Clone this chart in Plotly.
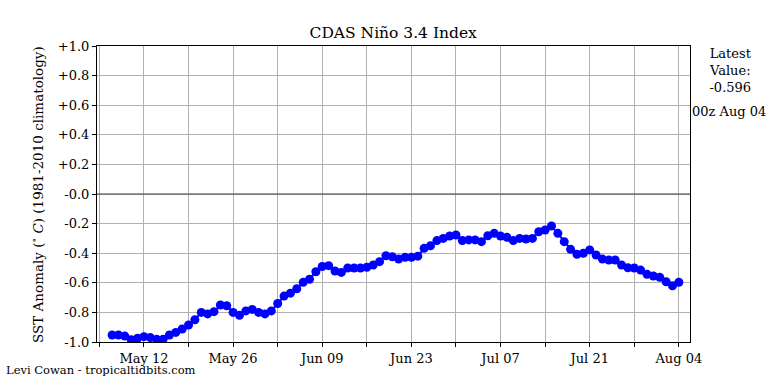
import plotly.graph_objects as go
import pandas as pd

start_date = "2021-05-07"
values = [
    -0.953, -0.953, -0.96, -0.985, -0.975, -0.964, -0.97, -0.982, -0.982, -0.953,
    -0.935, -0.912, -0.885, -0.85, -0.80, -0.81, -0.795, -0.75, -0.755, -0.80,
    -0.82, -0.79, -0.78, -0.80, -0.81, -0.79, -0.74, -0.69, -0.67, -0.64,
    -0.597, -0.576, -0.525, -0.49, -0.484, -0.52, -0.53, -0.50, -0.50, -0.50,
    -0.495, -0.48, -0.457, -0.417, -0.424, -0.44, -0.428, -0.428, -0.42, -0.367,
    -0.35, -0.315, -0.30, -0.284, -0.277, -0.315, -0.31, -0.31, -0.322, -0.282,
    -0.266, -0.284, -0.293, -0.315, -0.30, -0.304, -0.30, -0.255, -0.243, -0.216,
    -0.266, -0.322, -0.374, -0.407, -0.40, -0.378, -0.412, -0.44, -0.446, -0.446,
    -0.48, -0.498, -0.50, -0.514, -0.543, -0.554, -0.563, -0.593, -0.62, -0.596,
]
dates = pd.date_range(start_date, periods=len(values), freq="D")

x_ticks = pd.date_range("2021-05-05", "2021-08-04", freq="7D")
x_labels = ["May 12", "May 26", "Jun 09", "Jun 23", "Jul 07", "Jul 21", "Aug 04"]
y_ticks = [1.0, 0.8, 0.6, 0.4, 0.2, 0.0, -0.2, -0.4, -0.6, -0.8, -1.0]
y_labels = ["+1.0", "+0.8", "+0.6", "+0.4", "+0.2", "-0.0", "-0.2", "-0.4", "-0.6", "-0.8", "-1.0"]

tick_text = []
for d in x_ticks:
    lab = d.strftime("%b %d")
    tick_text.append(lab if lab in x_labels else " ")

FONT = "DejaVu Serif"

fig = go.Figure()
fig.add_trace(go.Scatter(
    x=dates, y=values, mode="lines+markers",
    line=dict(color="#0000ff", width=2),
    marker=dict(color="#0000ff", size=9),
    showlegend=False,
))
fig.add_hline(y=0, line=dict(color="#404040", width=1.2))

fig.update_layout(
    width=768, height=384,
    margin=dict(l=97, r=78, t=46, b=42, autoexpand=False),
    paper_bgcolor="white", plot_bgcolor="white",
    font=dict(family=FONT, size=13, color="black"),
    title=dict(text="CDAS Niño 3.4 Index", x=0.512, xanchor="center",
               y=0.914, yanchor="middle", font=dict(family=FONT, size=15.5)),
    xaxis=dict(
        range=[pd.Timestamp("2021-05-04 15:00"), pd.Timestamp("2021-08-05 18:00")],
        tickvals=x_ticks, ticktext=tick_text, tickangle=0,
        showgrid=True, gridcolor="#b0b0b0", gridwidth=1,
        showline=True, linecolor="black", linewidth=1, mirror=True,
        ticks="outside", ticklen=4, tickcolor="black",
        tickfont=dict(family=FONT, size=13), zeroline=False, automargin=False,
    ),
    yaxis=dict(
        range=[-1.0, 1.0], tickvals=y_ticks, ticktext=y_labels,
        showgrid=True, gridcolor="#b0b0b0", gridwidth=1,
        showline=True, linecolor="black", linewidth=1, mirror=True,
        ticks="outside", ticklen=4, tickcolor="black",
        tickfont=dict(family=FONT, size=13), zeroline=False, automargin=False,
    ),
    annotations=[
        dict(text="SST Anomaly (<sup>∘</sup> <i>C</i>) (1981-2010 climatology)",
             xref="paper", yref="paper", x=-0.1012, y=0.5, textangle=-90,
             xanchor="center", yanchor="middle", showarrow=False,
             font=dict(family=FONT, size=13.5)),
        dict(text="Latest<br>Value:<br>-0.596", xref="paper", yref="paper",
             x=1.068, y=1.008, xanchor="center", yanchor="top", showarrow=False,
             font=dict(family=FONT, size=13)),
        dict(text="00z Aug 04", xref="paper", yref="paper",
             x=1.066, y=0.78, xanchor="center", yanchor="middle", showarrow=False,
             font=dict(family=FONT, size=13)),
        dict(text="Levi Cowan - tropicaltidbits.com", xref="paper", yref="paper",
             x=-0.157, y=-0.093, xanchor="left", yanchor="middle", showarrow=False,
             font=dict(family=FONT, size=11.5)),
    ],
)

fig.write_html("out.html", config={"displayModeBar": False},
               post_script="document.body.style.margin='0';")
